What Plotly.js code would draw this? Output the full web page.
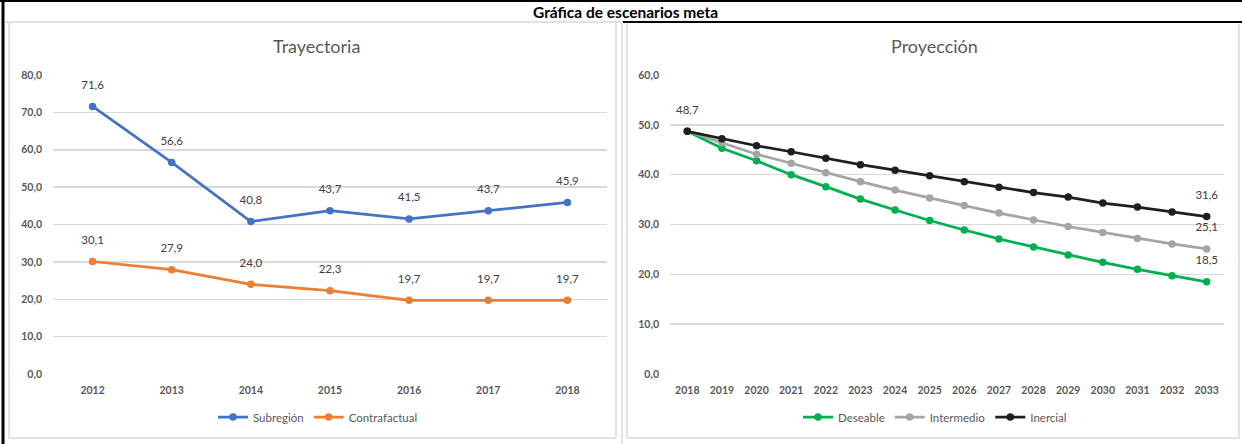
<!DOCTYPE html>
<html>
<head>
<meta charset="utf-8">
<script src="https://cdn.plot.ly/plotly-3.0.1.min.js"></script>
<style>
html,body{margin:0;padding:0;background:#fff;}
#chart{width:1242px;height:444px;}
</style>
</head>
<body>
<div id="chart"></div>
<script>
// ---- Data ----
const yearsLeft = ["2012","2013","2014","2015","2016","2017","2018"];
const subregion = [71.6, 56.6, 40.8, 43.7, 41.5, 43.7, 45.9];
const contrafactual = [30.1, 27.9, 24.0, 22.3, 19.7, 19.7, 19.7];

const yearsRight = ["2018","2019","2020","2021","2022","2023","2024","2025","2026","2027","2028","2029","2030","2031","2032","2033"];
const deseable   = [48.7, 45.3, 42.8, 40.0, 37.6, 35.1, 32.9, 30.8, 28.9, 27.1, 25.5, 23.9, 22.4, 21.0, 19.7, 18.5];
const intermedio = [48.7, 46.4, 44.1, 42.3, 40.4, 38.6, 36.9, 35.3, 33.8, 32.3, 30.9, 29.6, 28.4, 27.2, 26.1, 25.1];
const inercial   = [48.7, 47.2, 45.8, 44.6, 43.3, 42.0, 40.9, 39.8, 38.6, 37.5, 36.4, 35.5, 34.3, 33.5, 32.5, 31.6];

const mainTitle = "Gráfica de escenarios meta";
const leftTitle = "Trayectoria";
const rightTitle = "Proyección";

// ---- helpers ----
const W = 1242, H = 444;
const px = x => x / W;
const py = y => 1 - y / H;
const FONT = 'Lato, "Open Sans", sans-serif';
const TXT = '#595959';

function endLabels(arr, showFirst){
  return arr.map((v,i)=> (i===arr.length-1 || (showFirst && i===0)) ? v.toFixed(1).replace('.',',') : '');
}

const lbl = {family: FONT, size: 11.5, color: '#404040'};

function series(x, y, name, color, xa, ya, lg){
  return {x: x, y: y, name: name, type:'scatter', mode:'lines+markers',
    line:{color: color, width:2.75}, marker:{color: color, size:7.5},
    xaxis: xa, yaxis: ya, legend: lg, cliponaxis:false};
}
function labels(x, y, text, xa, ya){
  const t = {x: x, y: y, type:'scatter', mode:'markers+text', showlegend:false, hoverinfo:'skip',
    marker:{size:22, color:'rgba(0,0,0,0)'}, textposition:'top center', textfont: lbl,
    xaxis: xa, yaxis: ya, cliponaxis:false};
  if (text) t.text = text; else t.texttemplate = '%{y:.1f}';
  return t;
}

const traces = [
  series(yearsLeft, subregion, 'Subregión', '#4472C4', 'x', 'y', 'legend'),
  series(yearsLeft, contrafactual, 'Contrafactual', '#ED7D31', 'x', 'y', 'legend'),
  series(yearsRight, deseable, 'Deseable', '#00B050', 'x2', 'y2', 'legend2'),
  series(yearsRight, intermedio, 'Intermedio', '#A5A5A5', 'x2', 'y2', 'legend2'),
  series(yearsRight, inercial, 'Inercial', '#1F1F1F', 'x2', 'y2', 'legend2'),
  labels(yearsLeft, subregion, null, 'x', 'y'),
  labels(yearsLeft, contrafactual, null, 'x', 'y'),
  labels(yearsRight, deseable, endLabels(deseable,false), 'x2', 'y2'),
  labels(yearsRight, intermedio, endLabels(intermedio,false), 'x2', 'y2'),
  labels(yearsRight, inercial, endLabels(inercial,true), 'x2', 'y2')
];

const tickFont = {family: FONT, size: 10.5, color: TXT, weight: 'bold'};

const xCommon = {type:'category', showgrid:false, zeroline:false, showline:false, ticks:'',
  tickfont: tickFont, fixedrange:true, ticklabelstandoff: 8};
const yCommon = {showgrid:true, gridcolor:'#D9D9D9', gridwidth:1.5, zeroline:false, showline:false,
  ticks:'', tickfont: tickFont, tickformat:'.1f', fixedrange:true, ticklabelstandoff: 10};

const lineGray = {type:'line', xref:'paper', yref:'paper', line:{color:'#D9D9D9', width:1.5}};
const lineBlack = {type:'line', xref:'paper', yref:'paper', line:{color:'#000', width:2}};

const shapes = [
  Object.assign({}, lineBlack, {x0:px(3), x1:px(3), y0:py(0), y1:py(444), line:{color:'#000', width:3}}),
  Object.assign({}, lineBlack, {x0:px(0), x1:px(1242), y0:py(1), y1:py(1)}),
  Object.assign({}, lineBlack, {x0:px(623), x1:px(1242), y0:py(22), y1:py(22)}),
  Object.assign({}, lineGray, {x0:px(5), x1:px(623), y0:py(22), y1:py(22)}),
  Object.assign({}, lineGray, {x0:px(9), x1:px(9), y0:py(22), y1:py(438)}),
  Object.assign({}, lineGray, {x0:px(9), x1:px(616), y0:py(438), y1:py(438)}),
  Object.assign({}, lineGray, {x0:px(616), x1:px(616), y0:py(22), y1:py(438)}),
  Object.assign({}, lineGray, {x0:px(622), x1:px(622), y0:py(22), y1:py(444)}),
  Object.assign({}, lineGray, {x0:px(627), x1:px(627), y0:py(24), y1:py(438)}),
  Object.assign({}, lineGray, {x0:px(627), x1:px(1239), y0:py(438), y1:py(438)}),
  Object.assign({}, lineGray, {x0:px(1239), x1:px(1239), y0:py(24), y1:py(438)})
];

const legFont = {family:FONT, size:11.5, color:TXT};

const layout = {
  width: W, height: H,
  margin: {l:0, r:0, t:0, b:0},
  paper_bgcolor:'#fff', plot_bgcolor:'rgba(0,0,0,0)',
  separators: ',.',
  font: {family: FONT, color: TXT},
  showlegend: true,
  xaxis: Object.assign({}, xCommon, {domain:[px(53), px(607)], range:[-0.5, 6.5], anchor:'y'}),
  yaxis: Object.assign({}, yCommon, {domain:[py(374), py(75)], range:[0,80], dtick:10, anchor:'x'}),
  xaxis2: Object.assign({}, xCommon, {domain:[px(670), px(1224)], range:[-0.5, 15.5], anchor:'y2'}),
  yaxis2: Object.assign({}, yCommon, {domain:[py(374), py(75)], range:[0,60], dtick:10, anchor:'x2'}),
  legend: {orientation:'h', x: px(318), xanchor:'center', y: py(417), yanchor:'middle',
    font: legFont, bgcolor:'rgba(0,0,0,0)', itemwidth:30, tracegroupgap:0},
  legend2: {orientation:'h', x: px(935), xanchor:'center', y: py(417), yanchor:'middle',
    font: legFont, bgcolor:'rgba(0,0,0,0)', itemwidth:30, tracegroupgap:0},
  shapes: shapes,
  annotations: [
    {text: mainTitle, xref:'paper', yref:'paper', x: px(625), y: py(12), xanchor:'center', yanchor:'middle',
     showarrow:false, font:{family:FONT, size:15.5, color:'#000', weight:'bold'}},
    {text: leftTitle, xref:'paper', yref:'paper', x: px(316), y: py(46), xanchor:'center', yanchor:'middle',
     showarrow:false, font:{family:FONT, size:18, color:TXT}},
    {text: rightTitle, xref:'paper', yref:'paper', x: px(934), y: py(46), xanchor:'center', yanchor:'middle',
     showarrow:false, font:{family:FONT, size:18, color:TXT}}
  ]
};

Plotly.newPlot('chart', traces, layout, {displayModeBar:false, staticPlot:true});
</script>
</body>
</html>
